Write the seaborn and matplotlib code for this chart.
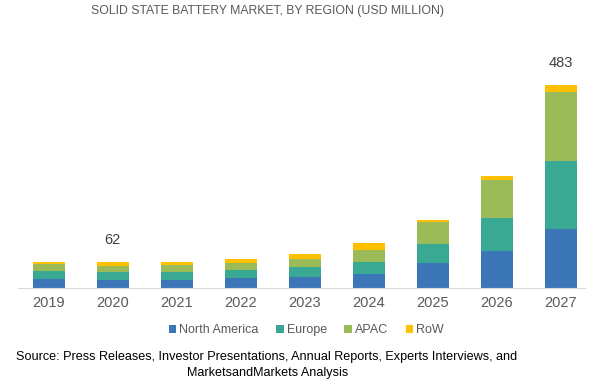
import numpy as np
import pandas as pd
import matplotlib
matplotlib.use("Agg")
import matplotlib.pyplot as plt
from matplotlib.patches import Patch
import seaborn as sns

years = ["2019", "2020", "2021", "2022", "2023", "2024", "2025", "2026", "2027"]
north_america = [21, 20, 20, 23, 25, 33, 60, 88, 141]
europe = [19, 18, 19, 20, 24, 29, 44, 79, 162]
apac = [16, 15, 15, 17, 21, 29, 52, 91, 163]
row = [7, 9, 9, 9, 10, 16, 5, 8, 17]
labels = {"2020": 62, "2027": 483}

regions = ["North America", "Europe", "APAC", "RoW"]
colors = ["#3b77b7", "#3aa993", "#9bbb59", "#ffc000"]

sns.set_style("white")
plt.rcParams["font.family"] = ["Liberation Sans", "DejaVu Sans"]

df = pd.DataFrame({"year": years, "North America": north_america, "Europe": europe,
                   "APAC": apac, "RoW": row})
cum = df[regions].cumsum(axis=1)

fig = plt.figure(figsize=(5.95, 3.9), dpi=100)
ax = fig.add_axes([18 / 595, 102 / 390, 567 / 595, 248 / 390])

# draw tallest cumulative first so lower segments sit on top
for reg, col in reversed(list(zip(regions, colors))):
    sns.barplot(x=df["year"], y=cum[reg], color=col, width=0.5, ax=ax,
                saturation=1, linewidth=0)

ax.set_xlim(-0.48, 8.38)
ax.set_ylim(0, 590)
ax.set_xlabel("")
ax.set_ylabel("")
ax.set_yticks([])
sns.despine(ax=ax, left=True)
ax.spines["bottom"].set_color("#d9d9d9")
ax.tick_params(axis="x", length=0, labelsize=10.5, colors="#595959", pad=6)

for yr, val in labels.items():
    i = years.index(yr)
    ax.text(i, cum["RoW"].iloc[i] + 36, str(val), ha="center", va="bottom",
            fontsize=10.5, color="#404040")

fig.text(0.45, 0.972, "SOLID STATE BATTERY MARKET, BY REGION (USD MILLION)",
         ha="center", va="center", fontsize=8.8, color="#595959")

handles = [Patch(facecolor=c, edgecolor="none") for c in colors]
fig.legend(handles, regions, loc="center", bbox_to_anchor=(0.515, 0.153), ncol=4,
           frameon=False, handlelength=0.6, handleheight=0.6,
           handletextpad=0.25, columnspacing=1.4, labelcolor="#595959",
           prop={"size": 9})

fig.text(0.448, 0.085, "Source: Press Releases, Investor Presentations, Annual Reports, Experts Interviews, and",
         ha="center", va="center", fontsize=9.1, color="black")
fig.text(0.45, 0.043, "MarketsandMarkets Analysis", ha="center", va="center",
         fontsize=9.1, color="black")

fig.savefig("out.png", dpi=100)
